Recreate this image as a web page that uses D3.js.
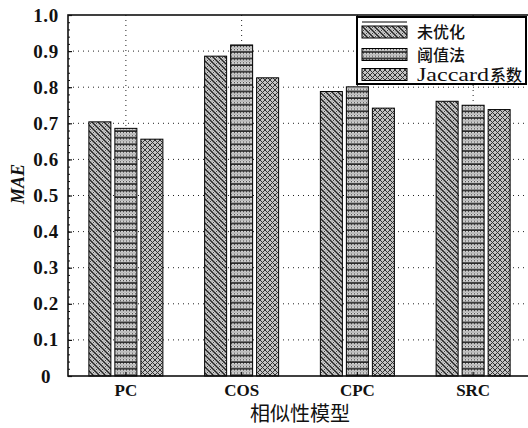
<!DOCTYPE html>
<html>
<head>
<meta charset="utf-8">
<script src="https://cdn.jsdelivr.net/npm/d3@7"></script>
<style>
html,body{margin:0;padding:0;background:#fff;}
svg{display:block;}
</style>
</head>
<body>
<svg id="chart" width="528" height="428"></svg>
<script>
const categories = ["PC", "COS", "CPC", "SRC"];
const seriesNames = ["未优化", "阈值法", "Jaccard系数"];
const seriesUnopt = [0.704, 0.886, 0.788, 0.761];
const seriesThreshold = [0.686, 0.917, 0.801, 0.750];
const seriesJaccard = [0.656, 0.826, 0.742, 0.738];
const yTickValues = [0, 0.1, 0.2, 0.3, 0.4, 0.5, 0.6, 0.7, 0.8, 0.9, 1.0];
const yTickLabels = ["0", "0.1", "0.2", "0.3", "0.4", "0.5", "0.6", "0.7", "0.8", "0.9", "1.0"];
const xTitle = "相似性模型";
const yTitle = "MAE";

(function(){
const allSeries = [seriesUnopt, seriesThreshold, seriesJaccard];
const svg = d3.select("#chart");
const pL = 68, pR = 531, pT = 15, pB = 376;

const x = d3.scaleBand().domain(categories).range([pL, pR]).paddingInner(0).paddingOuter(0);
const x1 = d3.scaleBand().domain(d3.range(3)).range([-37, 37]).paddingInner(0.154).paddingOuter(0);
const y = d3.scaleLinear().domain([0, 1]).range([pB, pT]);

const defs = svg.append("defs");
const dots = defs.append("pattern").attr("id","dots").attr("width",3).attr("height",3).attr("patternUnits","userSpaceOnUse");
dots.append("rect").attr("width",3).attr("height",3).attr("fill","#d4d4d4");
dots.append("rect").attr("x",0).attr("y",0).attr("width",1).attr("height",1).attr("fill","#444");
dots.append("rect").attr("x",1.5).attr("y",1.5).attr("width",1).attr("height",1).attr("fill","#666");

const p0 = defs.append("pattern").attr("id","pat0").attr("width",6).attr("height",6).attr("patternUnits","userSpaceOnUse");
p0.append("rect").attr("width",6).attr("height",6).attr("fill","url(#dots)");
p0.append("path").attr("d","M-1,-1 L7,7 M-4,2 L4,10 M2,-4 L10,4").attr("stroke","#222").attr("stroke-width",1.4);

const p1 = defs.append("pattern").attr("id","pat1").attr("width",6).attr("height",6.6).attr("patternUnits","userSpaceOnUse");
p1.append("rect").attr("width",6).attr("height",6.6).attr("fill","url(#dots)");
p1.append("rect").attr("x",0).attr("y",5).attr("width",6).attr("height",1.5).attr("fill","#1a1a1a");

const p2 = defs.append("pattern").attr("id","pat2").attr("width",5).attr("height",5).attr("patternUnits","userSpaceOnUse");
p2.append("rect").attr("width",5).attr("height",5).attr("fill","#c4c4c4");
p2.append("path").attr("d","M-1,-1 L6,6 M-1,4 L1,6 M4,-1 L6,1 M-1,6 L6,-1 M-1,1 L1,-1 M4,6 L6,4").attr("stroke","#333").attr("stroke-width",1);

const pats = ["url(#pat0)","url(#pat1)","url(#pat2)"];

const grid = svg.append("g");
yTickValues.slice(1, -1).forEach(v => {
  grid.append("line").attr("x1", pL).attr("x2", pR).attr("y1", y(v)).attr("y2", y(v))
    .attr("stroke","#222").attr("stroke-width",1).attr("stroke-dasharray","1,4");
});
categories.forEach(c => {
  grid.append("line").attr("x1", x(c)+x.bandwidth()/2).attr("x2", x(c)+x.bandwidth()/2)
    .attr("y1", pT).attr("y2", pB)
    .attr("stroke","#222").attr("stroke-width",1).attr("stroke-dasharray","1,4");
});

allSeries.forEach((vals, si) => {
  svg.append("g").selectAll("rect").data(categories).join("rect")
    .attr("x", (c) => x(c) + x.bandwidth()/2 + x1(si))
    .attr("width", x1.bandwidth())
    .attr("y", (c,i) => y(vals[i]))
    .attr("height", (c,i) => y(0) - y(vals[i]))
    .attr("fill", pats[si])
    .attr("stroke","#000").attr("stroke-width",1);
});

svg.append("rect").attr("x", pL).attr("y", pT).attr("width", pR-pL).attr("height", pB-pT)
  .attr("fill","none").attr("stroke","#111").attr("stroke-width",1.6);

const yAxis = d3.axisLeft(y).tickValues(yTickValues).tickFormat((d,i)=>yTickLabels[i]).tickSize(-4).tickPadding(0);
const ya = svg.append("g").attr("transform",`translate(${pL},0)`).call(yAxis);
ya.select(".domain").remove();
ya.selectAll(".tick line").attr("stroke","#111").attr("stroke-width",1.2);
ya.selectAll(".tick text").attr("x",-22).attr("text-anchor","middle")
  .attr("font-family","Liberation Serif").attr("font-weight","bold").attr("font-size",19)
  .attr("letter-spacing",0.6).attr("fill","#111");
const yMinor = d3.axisLeft(y).tickValues(d3.range(0, 1.0001, 0.02)).tickSize(-2).tickFormat("");
const ym = svg.append("g").attr("transform",`translate(${pL},0)`).call(yMinor);
ym.select(".domain").remove();
ym.selectAll(".tick line").attr("stroke","#111");

const xAxis = d3.axisBottom(x).tickSize(-4).tickPadding(8);
const xa = svg.append("g").attr("transform",`translate(0,${pB})`).call(xAxis);
xa.select(".domain").remove();
xa.selectAll(".tick line").attr("stroke","#111").attr("stroke-width",1.2);
xa.selectAll(".tick text").attr("font-family","Liberation Serif").attr("font-weight","bold").attr("font-size",17).attr("fill","#111");

svg.append("text").attr("x", 300).attr("y", 421).attr("text-anchor","middle")
  .attr("font-family","Noto Sans CJK SC").attr("font-size",20).attr("fill","#111").text(xTitle);
svg.append("text").attr("transform","translate(24,184) rotate(-90)").attr("text-anchor","middle")
  .attr("font-family","Liberation Serif").attr("font-style","italic").attr("font-weight","bold").attr("font-size",18).attr("fill","#111").text(yTitle);

const lg = svg.append("g");
lg.append("rect").attr("x",357).attr("y",17).attr("width",169).attr("height",67)
  .attr("fill","#fff").attr("stroke","#000").attr("stroke-width",2);
lg.append("line").attr("x1",362).attr("x2",407).attr("y1",22).attr("y2",22).attr("stroke","#000").attr("stroke-width",1);
const rowY = [32, 54.5, 74.5];
seriesNames.forEach((name, i) => {
  lg.append("rect").attr("x",362).attr("y",rowY[i]-6).attr("width",45).attr("height",12)
    .attr("fill", pats[i]).attr("stroke","#000").attr("stroke-width",1);
  const m = name.match(/^([A-Za-z]*)(.*)$/);
  let tx = 417;
  if (m[1]) {
    lg.append("text").attr("x",tx).attr("y",rowY[i]+6)
      .attr("font-family","Liberation Serif").attr("font-size",18).attr("fill","#111")
      .attr("textLength",72).attr("lengthAdjust","spacingAndGlyphs").text(m[1]);
    tx += 73;
  }
  lg.append("text").attr("x",tx).attr("y",rowY[i]+6)
    .attr("font-family","Noto Sans CJK SC").attr("font-weight","500").attr("font-size",16).attr("fill","#111").text(m[2]);
});
})();
</script>
</body>
</html>
